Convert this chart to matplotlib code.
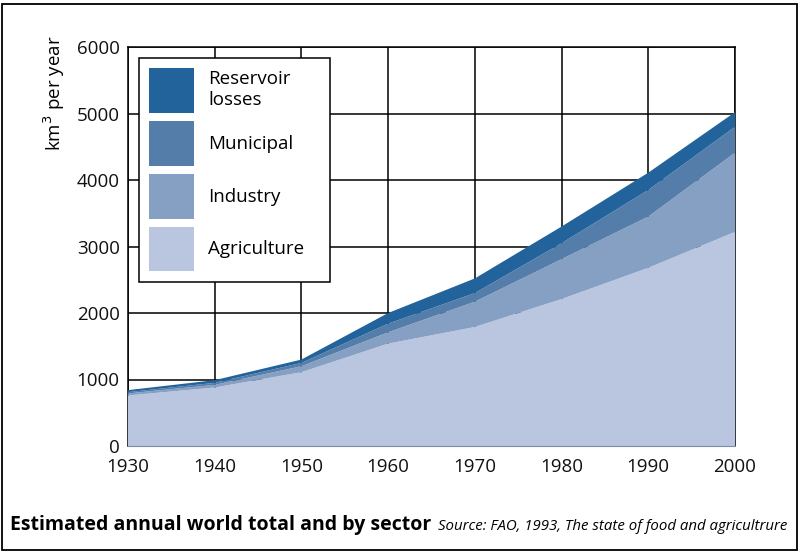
import matplotlib
matplotlib.use("Agg")
import matplotlib.pyplot as plt
import numpy as np
from matplotlib.patches import Rectangle

plt.rcParams["font.family"] = ["Open Sans", "DejaVu Sans"]

# --- data (km3 per year) ---
years = [1930, 1940, 1950, 1960, 1970, 1980, 1990, 2000]
agriculture = [760, 880, 1110, 1540, 1790, 2210, 2680, 3220]
industry = [30, 40, 90, 170, 380, 600, 770, 1190]
municipal = [20, 30, 50, 130, 130, 240, 400, 390]
reservoir = [30, 40, 50, 160, 220, 250, 260, 220]

labels = ["Agriculture", "Industry", "Municipal", "Reservoir\nlosses"]
colors = ["#bac6df", "#86a0c4", "#557daa", "#21639a"]

fig = plt.figure(figsize=(8.01, 5.53), dpi=100)
ax = fig.add_axes([128 / 801, 107 / 553, 607 / 801, 399 / 553])

polys = ax.stackplot(years, agriculture, industry, municipal, reservoir,
                     colors=colors, labels=labels, zorder=3, linewidth=0)

ax.set_xlim(1930, 2000)
ax.set_ylim(0, 6000)
ax.set_xticks(years)
ax.set_yticks(np.arange(0, 6001, 1000))
ax.grid(True, color="black", linewidth=1.1)
ax.set_axisbelow(True)
ax.tick_params(length=0, labelsize=13.5, colors="#111111")
ax.tick_params(axis="x", pad=9)
ax.tick_params(axis="y", pad=6)
for s in ["top", "left", "right"]:
    ax.spines[s].set_color("black")
    ax.spines[s].set_linewidth(1.1)
ax.spines["bottom"].set_color("#7f8cab")
ax.spines["bottom"].set_zorder(4)

ax.set_ylabel("km$^3$ per year", fontsize=13.5)
ax.yaxis.set_label_coords(-0.1, 0.885)

# legend, top entry first
handles, labs = ax.get_legend_handles_labels()
leg = ax.legend(handles[::-1], labs[::-1], loc="upper left",
                bbox_to_anchor=(0.018, 0.972, 0.315, 0), mode="expand",
                borderaxespad=0,
                fontsize=13.5, handlelength=2.4, handleheight=3.3,
                labelspacing=0.42, borderpad=0.55, handletextpad=0.75,
                fancybox=False, edgecolor="black", framealpha=1)
leg.get_frame().set_linewidth(1.1)
leg.set_zorder(5)

fig.text(10 / 801, 1 - 530 / 553, "Estimated annual world total and by sector",
         fontsize=14, fontweight="bold", ha="left", va="baseline")
fig.text(787 / 801, 1 - 530 / 553, "Source: FAO, 1993, The state of food and agricultrure",
         fontsize=10.8, style="italic", ha="right", va="baseline")

# frame around the whole figure
fig.patches.append(Rectangle((2 / 801, 3 / 553), 795 / 801, 546 / 553,
                             transform=fig.transFigure, fill=False,
                             edgecolor="black", linewidth=1.3))

fig.savefig("out.png", dpi=100)
